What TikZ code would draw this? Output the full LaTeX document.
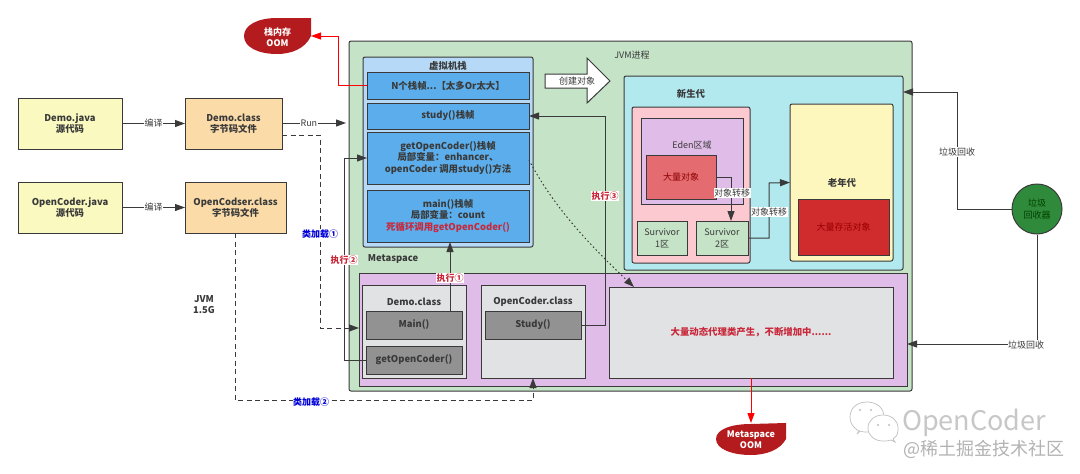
\documentclass[tikz,border=0pt]{standalone}
\usepackage{fontspec}
\setmainfont{Noto Sans CJK SC}
\usetikzlibrary{arrows.meta,calc}
\definecolor{jvmg}{HTML}{C5E3C6}
\definecolor{stackb}{HTML}{B5D9F7}
\definecolor{frameb}{HTML}{5BAEEB}
\definecolor{srcy}{HTML}{FAFAC0}
\definecolor{clso}{HTML}{FBDCA8}
\definecolor{younc}{HTML}{B2E9EF}
\definecolor{pinkc}{HTML}{FCC9D1}
\definecolor{purp}{HTML}{E0BCE8}
\definecolor{massr}{HTML}{E46C70}
\definecolor{oldy}{HTML}{FDF7BE}
\definecolor{oldr}{HTML}{D02B2D}
\definecolor{greyb}{HTML}{E1E2E4}
\definecolor{methg}{HTML}{929292}
\definecolor{blobr}{HTML}{B41B1F}
\definecolor{gcg}{HTML}{2F8A3B}
\definecolor{ink}{HTML}{3A3A3A}
\definecolor{redt}{HTML}{C8283A}
\tikzset{
  x=1pt,y=-1pt,
  base/.style={draw=ink,line width=1pt,inner sep=0pt,outer sep=0pt,align=center,text=ink,font=\bfseries\fontsize{9.4}{11.5}\selectfont},
  plain/.style={base,font=\fontsize{9}{11.5}\selectfont},
  tag/.style={inner sep=0.5pt,outer sep=0pt,text=ink,font=\fontsize{9}{11}\selectfont,fill=white},
  redtag/.style={tag,text=redt,font=\bfseries\fontsize{9}{11}\selectfont},
  bluetag/.style={tag,text=blue!85!black,font=\bfseries\fontsize{9}{11}\selectfont},
  lbl/.style={inner sep=0pt,text=ink,align=center,font=\bfseries\fontsize{9.4}{11}\selectfont},
  lblp/.style={lbl,font=\fontsize{9}{11.5}\selectfont},
  conn/.style={draw=ink,line width=1pt,-{Triangle[length=10pt,width=7pt]}},
  dconn/.style={conn,dash pattern=on 5pt off 3.5pt},
  rconn/.style={draw=red,line width=1pt,-{Triangle[length=10pt,width=7pt]}},
  oomt/.style={inner sep=0pt,align=center,text=white,font=\bfseries\fontsize{9}{11.5}\selectfont},
  bubble/.style={draw=black!25,line width=.7pt,fill=white},
}
\newcommand{\bx}[7]{%
  \pgfmathsetmacro{\cxx}{(#3+#5)/2}\pgfmathsetmacro{\cyy}{(#4+#6)/2}%
  \pgfmathsetmacro{\wdd}{#5-#3}\pgfmathsetmacro{\htt}{#6-#4}%
  \node[#2,minimum width=\wdd pt,minimum height=\htt pt] (#1) at (\cxx,\cyy) {#7};}
\begin{document}
\begin{tikzpicture}
\useasboundingbox (0,0) rectangle (1080,474);
% source boxes
\bx{djava}{base,fill=srcy}{18}{98}{122}{149}{Demo.java\\源代码}
\bx{dclass}{base,fill=clso}{185}{98}{282}{149}{Demo.class\\字节码文件}
\bx{ojava}{base,fill=srcy}{18}{182}{122}{233}{OpenCoder.java\\源代码}
\bx{oclass}{base,fill=clso}{185}{182}{286}{233}{OpenCodser.class\\字节码文件}
% JVM
\bx{jvm}{base,fill=jvmg,rounded corners=2pt}{349}{41}{912}{391}{}
\node[lblp] (jvmt) at (632,55) {JVM进程};
% stack
\bx{stack}{base,fill=stackb,rounded corners=2pt}{363}{57}{533}{247}{}
\node[lbl] (stackt) at (448,66) {虚拟机栈};
\bx{fn}{base,fill=frameb}{367}{72}{529}{99}{N个栈帧...【太多Or太大】}
\bx{fs}{base,fill=frameb}{367}{103}{529}{129}{study()栈帧}
\bx{fg}{base,fill=frameb}{367}{132}{529}{184}{getOpenCoder()栈帧\\局部变量：enhancer、\\openCoder 调用study()方法}
\bx{fm}{base,fill=frameb}{367}{190}{529}{242}{main()栈帧\\局部变量：count\\\textcolor{redt}{死循环调用getOpenCoder()}}
% hollow arrow
\draw[draw=ink,line width=1pt,fill=white] (545,74) -- (587,74) -- (587,58) -- (610,81) -- (587,103) -- (587,88) -- (545,88) -- cycle;
\node[lblp] (create) at (577,81) {创建对象};
% young
\bx{young}{base,fill=younc,rounded corners=2pt}{624}{76}{903}{270}{}
\node[lbl] (youngt) at (691,94) {新生代};
\bx{pink}{base,fill=pinkc,rounded corners=2pt}{632}{107}{750}{263}{}
\bx{eden}{base,fill=purp}{641}{118}{743}{204}{}
\node[lblp] (edent) at (692,145) {Eden区域};
\bx{mass}{plain,fill=massr,text=red!55!black}{646}{155}{716}{199}{大量对象}
\bx{s1}{plain,fill=jvmg}{637}{221}{687}{255}{Survivor\\1区}
\bx{s2}{plain,fill=jvmg}{696}{221}{748}{255}{Survivor\\2区}
\bx{old}{base,fill=oldy,rounded corners=2pt}{790}{104}{893}{261}{}
\node[lbl] (oldt) at (842,183) {老年代};
\bx{oldobj}{plain,fill=oldr,text=red!60!black}{798}{199}{889}{255}{大量存活对象}
% metaspace
\node[lbl] (metat) at (393,259) {Metaspace};
\bx{meta}{base,fill=purp}{359}{273}{907}{386}{}
\bx{dbox}{base,fill=greyb}{362}{285}{466}{378}{}
\node[lbl] (dboxt) at (414,302) {Demo.class};
\bx{main}{base,fill=methg}{366}{311}{462}{339}{Main()}
\bx{getoc}{base,fill=methg}{366}{346}{462}{374}{getOpenCoder()}
\bx{obox}{base,fill=greyb}{481}{285}{585}{378}{}
\node[lbl] (oboxt) at (533,302) {OpenCoder.class};
\bx{study}{base,fill=methg}{485}{311}{581}{339}{Study()}
\bx{dyn}{base,fill=greyb,text=redt}{609}{287}{893}{378}{大量动态代理类产生，不断增加中......}
% OOM blobs
\path[fill=blobr] (311,18) -- (311,36) .. controls (305,49) and (291,54) .. (277,54)
  .. controls (258,54) and (244,47) .. (244,36) .. controls (244,25) and (258,18) .. (277,18) -- cycle;
\node[oomt] (oom1) at (277.5,37) {栈内存\\OOM};
\path[fill=blobr] (786,423) -- (786,439) .. controls (780,450) and (766,455) .. (751,455)
  .. controls (732,455) and (716,449) .. (716,439) .. controls (716,429) and (732,424) .. (751,424) -- cycle;
\node[oomt] (oom2) at (751,439.5) {Metaspace\\OOM};
\coordinate (oom1e) at (311,36);
\coordinate (oom2n) at (751,423);
% GC
\node[circle,draw=ink,line width=1pt,fill=gcg,minimum size=50pt,inner sep=0pt,align=center,text=green!25!black,font=\fontsize{9}{11.5}\selectfont] (gc) at (1037,209) {垃圾\\回收器};
% connectors
\draw[conn] (djava.east) -- node[tag,pos=.5]{编译} (dclass.west);
\draw[conn] (ojava.east) -- node[tag,pos=.5]{编译} (oclass.west);
\coordinate (runend) at (346,123);
\draw[conn] (dclass.east |- runend) -- node[tag,pos=.42]{Run} (runend);
\draw[rconn] (fn.west) -| (338,36) -- (oom1e);
\draw[rconn] (dyn.south -| oom2n) -- (oom2n);
\draw[dconn] (dclass.east |- 0,135) -- (320,135) -- (320,328) -- (meta.west |- 0,328);
\draw[dconn] (oclass.south -| 235,0) -- (235,400) -- (533,400) -- (obox.south);
\draw[conn] (main.north -| 450,0) -- (fm.south -| 450,0);
\draw[conn] (getoc.west) -- (344,360) -- (344,158) -- (fg.west);
\draw[conn] (study.east) -- (605,325) -- (605,116) -- (fs.east);
\draw[conn,dash pattern=on 1.5pt off 2.5pt] (fg.east |- 0,160) .. controls (555,210) and (595,250) .. (634,287);
\draw[conn] (mass.east) -- (731,177) -- (731,221);
\draw[conn] (s2.east |- 0,238) -- (769,238) -- (769,183) -- (old.west);
\draw[conn] (gc.west) -- (957,209) -- (957,92) -- (young.east |- 0,92);
\draw[conn] (gc.south) -- (1037,344) -- (meta.east |- 0,344);
% connector labels
\node[tag] (l1) at (732,193) {对象转移};
\node[tag] (l2) at (769,212) {对象转移};
\node[tag] (l3) at (957,152) {垃圾回收};
\node[tag] (l4) at (1026,345) {垃圾回收};
\node[redtag] (e1) at (450,278) {执行①};
\node[redtag] (e2) at (344,260) {执行②};
\node[redtag] (e3) at (605,196) {执行③};
\node[bluetag] (b1) at (320,234) {类加载①};
\node[bluetag] (b2) at (311,402) {类加载②};
\node[lbl] (heap) at (204,305) {JVM\\1.5G};
% watermark
\draw[bubble] (859,431) .. controls (852,427) and (850,422) .. (850,417) .. controls (850,408) and (857,402) .. (867,402) .. controls (877,402) and (884,408) .. (884,417) .. controls (884,426) and (877,432) .. (867,432) .. controls (865,432) and (862,432) .. (860,431) -- (857,434) -- cycle;
\fill[black!25] (860,410) circle (1.2pt) (871,410) circle (1.2pt);
\draw[bubble] (893,439) .. controls (898,436) and (898,432) .. (898,428) .. controls (898,420) and (891,415) .. (883,415) .. controls (875,415) and (868,420) .. (868,428) .. controls (868,436) and (875,441) .. (883,441) .. controls (886,441) and (889,441) .. (891,440) -- (895,442) -- cycle;
\fill[black!25] (878,425) circle (1.2pt) (889,425) circle (1.2pt);
\node[inner sep=0pt,text=black!22,font=\fontsize{27}{29}\selectfont] (wm1) at (974,423) {OpenCoder};
\node[inner sep=0pt,text=black!30,font=\fontsize{18}{20}\selectfont] (wm2) at (984,449) {@稀土掘金技术社区};
\end{tikzpicture}
\end{document}
